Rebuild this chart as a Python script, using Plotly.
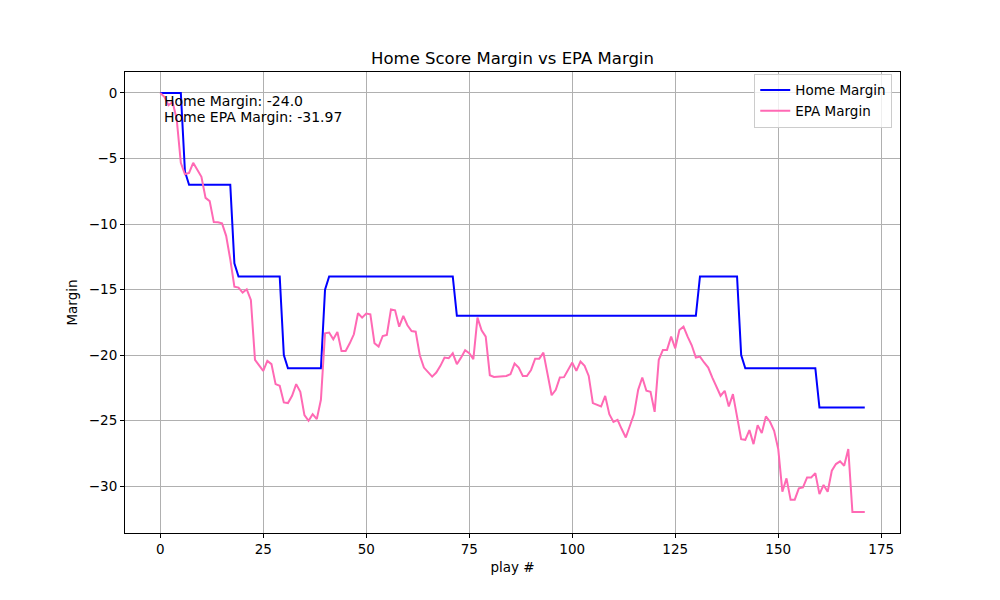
import plotly.graph_objects as go

# play-by-play margins (home team perspective)
plays = list(range(172))

home_margin = [
    0, 0, 0, 0, 0, 0, -6, -7, -7, -7,
    -7, -7, -7, -7, -7, -7, -7, -7, -13, -14,
    -14, -14, -14, -14, -14, -14, -14, -14, -14, -14,
    -20, -21, -21, -21, -21, -21, -21, -21, -21, -21,
    -15, -14, -14, -14, -14, -14, -14, -14, -14, -14,
    -14, -14, -14, -14, -14, -14, -14, -14, -14, -14,
    -14, -14, -14, -14, -14, -14, -14, -14, -14, -14,
    -14, -14, -17, -17, -17, -17, -17, -17, -17, -17,
    -17, -17, -17, -17, -17, -17, -17, -17, -17, -17,
    -17, -17, -17, -17, -17, -17, -17, -17, -17, -17,
    -17, -17, -17, -17, -17, -17, -17, -17, -17, -17,
    -17, -17, -17, -17, -17, -17, -17, -17, -17, -17,
    -17, -17, -17, -17, -17, -17, -17, -17, -17, -17,
    -17, -14, -14, -14, -14, -14, -14, -14, -14, -14,
    -14, -20, -21, -21, -21, -21, -21, -21, -21, -21,
    -21, -21, -21, -21, -21, -21, -21, -21, -21, -21,
    -24, -24, -24, -24, -24, -24, -24, -24, -24, -24,
    -24, -24,
]

epa_margin = [
    0.0, -0.3, -0.94, -0.69, -2.0, -5.33, -6.2, -6.1, -5.33, -5.9,
    -6.4, -8.0, -8.25, -9.85, -9.87, -9.95, -10.9, -12.7, -14.78, -14.85,
    -15.23, -14.98, -15.79, -20.36, -20.82, -21.2, -20.44, -20.69, -22.21, -22.34,
    -23.61, -23.66, -23.1, -22.21, -22.8, -24.58, -25.01, -24.5, -24.88, -23.41,
    -18.33, -18.28, -18.79, -18.23, -19.68, -19.68, -19.1, -18.41, -16.81, -17.14,
    -16.83, -16.89, -19.09, -19.35, -18.54, -18.46, -16.51, -16.58, -17.83, -17.01,
    -17.72, -18.16, -18.21, -20.01, -20.95, -21.33, -21.64, -21.33, -20.82, -20.19,
    -20.24, -19.86, -20.69, -20.19, -19.63, -19.86, -20.31, -17.14, -18.10, -18.59,
    -21.53, -21.66, -21.64, -21.59, -21.59, -21.46, -20.64, -20.95, -21.59, -21.59,
    -21.13, -20.27, -20.27, -19.81, -21.33, -23.06, -22.65, -21.71, -21.68, -21.07,
    -20.57, -21.2, -20.49, -20.82, -21.59, -23.66, -23.82, -23.92, -23.11, -24.50,
    -25.09, -24.93, -25.64, -26.28, -25.39, -24.50, -22.65, -21.71, -22.72, -22.80,
    -24.33, -20.36, -19.60, -19.60, -18.59, -19.48, -18.08, -17.83, -18.59, -19.25,
    -20.19, -20.11, -20.56, -20.95, -21.71, -22.40, -23.1, -22.72, -23.92, -22.98,
    -24.63, -26.41, -26.46, -25.72, -26.79, -25.34, -25.95, -24.68, -25.08, -25.77,
    -27.17, -30.42, -29.40, -31.03, -31.03, -30.16, -30.09, -29.33, -29.33, -29.0,
    -30.6, -29.91, -30.42, -28.82, -28.31, -28.1, -28.44, -27.17, -31.97, -31.97,
    -31.97, -31.97,
]

x_ticks = [0, 25, 50, 75, 100, 125, 150, 175]
y_ticks = [0, -5, -10, -15, -20, -25, -30]

FONT = "DejaVu Sans"

fig = go.Figure()
fig.add_trace(go.Scatter(x=plays, y=home_margin, mode="lines", name="Home Margin",
                         line=dict(color="#0000ff", width=2)))
fig.add_trace(go.Scatter(x=plays, y=epa_margin, mode="lines", name="EPA Margin",
                         line=dict(color="#ff69b4", width=2)))

# final values, top left of the axes (one annotation per line to get matplotlib's spacing)
info_lines = [
    f"Home Margin: {home_margin[-1]:.1f}",
    f"Home EPA Margin: {epa_margin[-1]:.2f}",
]
for k, line in enumerate(info_lines):
    fig.add_annotation(
        xref="paper", yref="paper", x=0.05, y=0.937 - k * 0.0347,
        xanchor="left", yanchor="middle", align="left", showarrow=False,
        xshift=-2, text=line,
        font=dict(family=FONT, size=14, color="black"),
    )

axis_style = dict(
    showline=True, linecolor="black", linewidth=1, mirror=True,
    ticks="outside", ticklen=4, tickcolor="black",
    showgrid=True, gridcolor="#b0b0b0", gridwidth=1,
    zeroline=False, tickfont=dict(family=FONT, size=13.5, color="black"),
)

# page body has an 8px margin, so the figure is shrunk by 8px to fit the window
fig.update_layout(
    width=992, height=592,
    margin=dict(l=117, r=100, t=64, b=67),
    plot_bgcolor="white", paper_bgcolor="white",
    title=dict(text="Home Score Margin vs EPA Margin", x=0.5, xref="paper",
               y=1 - 50 / 592, yref="container", yanchor="middle",
               font=dict(family=FONT, size=16.5, color="black")),
    xaxis=dict(range=[-8.55, 179.55], tickvals=x_ticks,
               title=dict(text="play #", font=dict(family=FONT, size=13.5, color="black"), standoff=6),
               **axis_style),
    yaxis=dict(range=[-33.57, 1.6], tickvals=y_ticks,
               title=dict(text="Margin", font=dict(family=FONT, size=13.5, color="black"), standoff=8),
               **axis_style),
    legend=dict(x=0.99, y=0.996, xanchor="right", yanchor="top",
                bgcolor="rgba(255,255,255,0.8)", bordercolor="#cccccc", borderwidth=1,
                font=dict(family=FONT, size=13.5, color="black"),
                tracegroupgap=0, itemwidth=30),
    showlegend=True,
)

fig.write_html("out.html")
